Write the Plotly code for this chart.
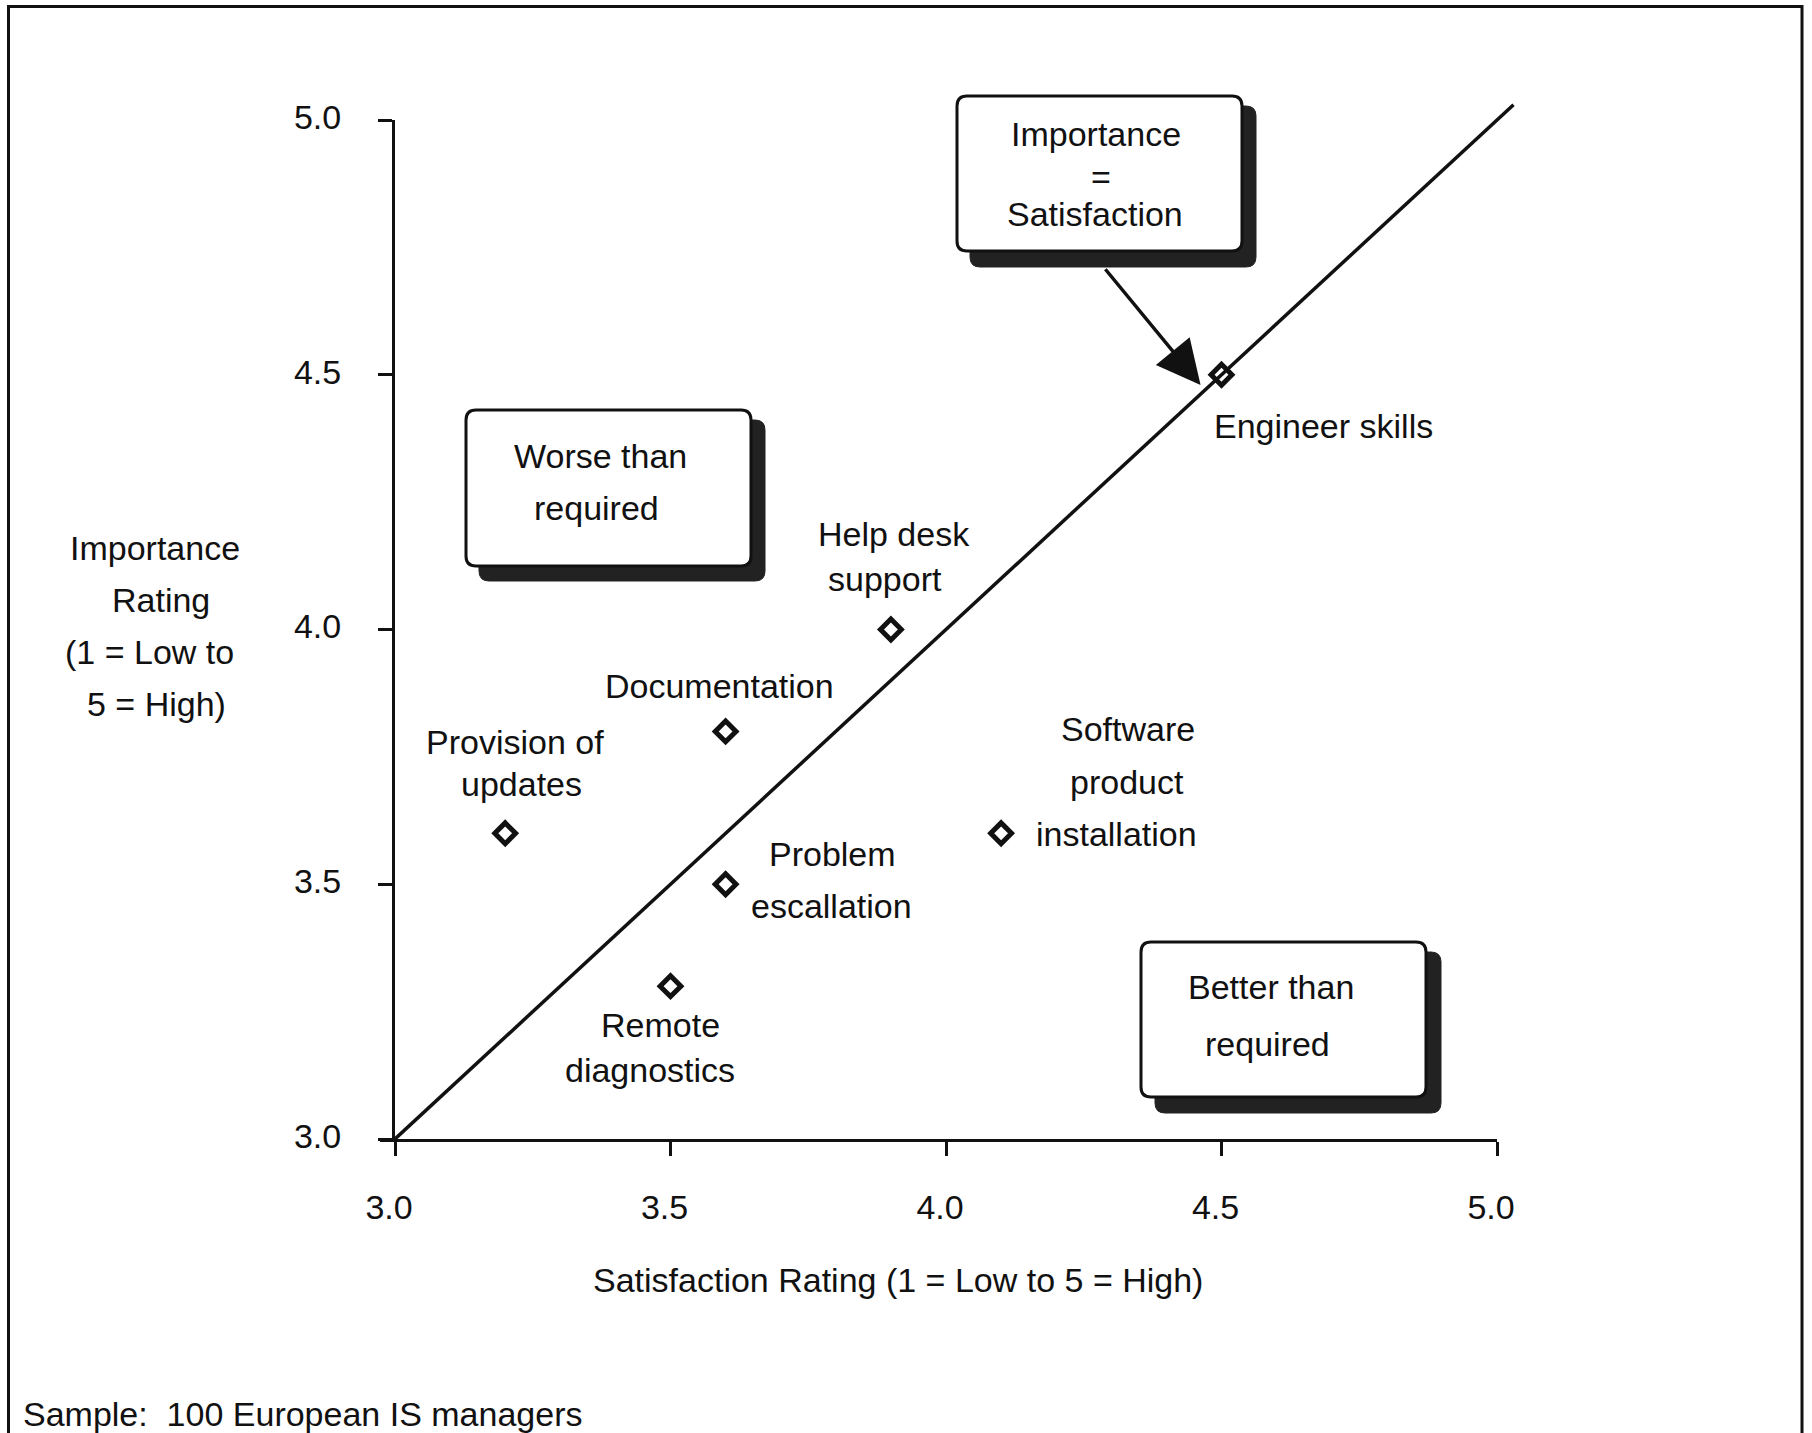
import plotly.graph_objects as go

# ---- Survey data: service attributes rated by IS managers ----
attributes = [
    "Engineer skills",
    "Help desk support",
    "Documentation",
    "Provision of updates",
    "Problem escallation",
    "Remote diagnostics",
    "Software product installation",
]
satisfaction = [4.5, 3.9, 3.6, 3.2, 3.6, 3.5, 4.1]
importance = [4.5, 4.0, 3.8, 3.6, 3.5, 3.3, 3.6]

# label text, one entry per line, for each attribute
label_lines = [
    ["Engineer skills"],
    ["Help desk", "support"],
    ["Documentation"],
    ["Provision of", "updates"],
    ["Problem", "escallation"],
    ["Remote", "diagnostics"],
    ["Software", "product", "installation"],
]

tick_values = [3.0, 3.5, 4.0, 4.5, 5.0]
tick_labels = ["3.0", "3.5", "4.0", "4.5", "5.0"]

# importance = satisfaction reference line
parity_x = [3.0, 5.03]
parity_y = [3.0, 5.03]

# arrow from the callout box to the parity line (data units)
arrow_tip = (4.462, 4.480)
arrow_tail = (4.287, 4.710)

# ---- layout geometry (pixels) ----
W, H = 1812, 1433
M_L, M_R, M_T, M_B = 395, 280, 90, 294
PW = W - M_L - M_R
PH = H - M_T - M_B
X_LO_PX, X_HI_PX = 395, 1497      # pixel columns of x = 3.0 and x = 5.0
Y_HI_PX, Y_LO_PX = 120, 1139      # pixel rows of y = 5.0 and y = 3.0

FONT = "Liberation Sans, Arial, Helvetica, sans-serif"
FS = 34
INK = "#111111"


def px(xp):
    return (xp - M_L) / PW


def py(yp):
    return (H - M_B - yp) / PH


x_per_unit = (X_HI_PX - X_LO_PX) / 2.0
y_per_unit = (Y_LO_PX - Y_HI_PX) / 2.0

fig = go.Figure()

# parity line on an auxiliary axis pair that runs slightly past 5.0
fig.add_trace(go.Scatter(
    x=parity_x, y=parity_y, mode="lines",
    line=dict(color=INK, width=3.5),
    xaxis="x2", yaxis="y2", hoverinfo="skip", showlegend=False,
))

# attribute markers
fig.add_trace(go.Scatter(
    x=satisfaction, y=importance, mode="markers",
    marker=dict(symbol="diamond-open", size=16, color=INK, line=dict(width=5, color=INK)),
    text=attributes, hoverinfo="text", showlegend=False, cliponaxis=False,
))

annotations = []

# per-line offsets (px right, px down) of each label relative to its marker
label_offsets = [
    [(102, 51)],
    [(3, -96), (-6, -51)],
    [(-6, -45)],
    [(10, -91), (16, -49)],
    [(107, -30), (106, 22)],
    [(-10, 39), (-21, 84)],
    [(127, -104), (126, -51), (115, 1)],
]
for sx, iy, lines, offs in zip(satisfaction, importance, label_lines, label_offsets):
    for line, (dx, dy) in zip(lines, offs):
        annotations.append(dict(
            x=sx, y=iy, xref="x", yref="y", text=line, showarrow=False,
            xanchor="center", yanchor="middle", xshift=dx, yshift=-dy,
            font=dict(family=FONT, size=FS, color=INK),
        ))


def free_text(text, xp, yp, xanchor="center"):
    annotations.append(dict(
        x=px(xp), y=py(yp), xref="paper", yref="paper", text=text,
        showarrow=False, xanchor=xanchor, yanchor="middle",
        font=dict(family=FONT, size=FS, color=INK),
    ))


# axis titles
for t, xp, yp in [("Importance", 155, 548), ("Rating", 161, 600),
                  ("(1 = Low to", 150, 652), ("5 = High)", 156, 704)]:
    free_text(t, xp, yp)
free_text("Satisfaction Rating (1 = Low to 5 = High)", 898, 1280)
free_text("Sample:\u00a0 100 European IS managers", 21, 1414, xanchor="left")

# callout box texts
for t, xp, yp in [("Importance", 1096, 134), ("=", 1101, 177), ("Satisfaction", 1095, 214),
                  ("Worse than", 600, 456), ("required", 596, 508),
                  ("Better than", 1271, 987), ("required", 1267, 1044)]:
    free_text(t, xp, yp)

# arrow pointing at the parity line
annotations.append(dict(
    x=arrow_tip[0], y=arrow_tip[1], xref="x", yref="y",
    ax=arrow_tail[0], ay=arrow_tail[1], axref="x", ayref="y",
    text="", showarrow=True, arrowhead=2, arrowsize=2.5, arrowwidth=3.5,
    arrowcolor=INK, standoff=0, startstandoff=0,
))


def rrect(x0, y0, x1, y1, r):
    X0, X1 = px(x0), px(x1)
    Yt, Yb = py(y0), py(y1)
    rx, ry = r / PW, r / PH
    return (f"M{X0 + rx},{Yt} L{X1 - rx},{Yt} Q{X1},{Yt} {X1},{Yt - ry} "
            f"L{X1},{Yb + ry} Q{X1},{Yb} {X1 - rx},{Yb} L{X0 + rx},{Yb} "
            f"Q{X0},{Yb} {X0},{Yb + ry} L{X0},{Yt - ry} Q{X0},{Yt} {X0 + rx},{Yt} Z")


shapes = []
# outer frame
shapes.append(dict(type="rect", xref="paper", yref="paper",
                   x0=px(8.5), x1=px(1802), y0=py(1460), y1=py(6.5),
                   line=dict(color=INK, width=3), fillcolor="rgba(0,0,0,0)", layer="below"))

# callout boxes with drop shadows
boxes = [
    ((957, 96, 1242, 251), (970, 106, 1256, 267)),
    ((466, 410, 751, 566), (479, 420, 765, 581)),
    ((1141, 942, 1426, 1097), (1155, 952, 1441, 1113)),
]
for box, shadow in boxes:
    shapes.append(dict(type="path", xref="paper", yref="paper", path=rrect(*shadow, 10),
                       fillcolor="#222222", line=dict(color="#222222", width=1)))
    shapes.append(dict(type="path", xref="paper", yref="paper", path=rrect(*box, 10),
                       fillcolor="white", line=dict(color=INK, width=3)))

# x axis line runs left under the y tick marks
shapes.append(dict(type="line", xref="paper", yref="paper",
                   x0=px(X_LO_PX - 15), x1=px(X_LO_PX), y0=py(Y_LO_PX + 1.5), y1=py(Y_LO_PX + 1.5),
                   line=dict(color=INK, width=3)))

axis_common = dict(
    tickmode="array", tickvals=tick_values, ticktext=tick_labels,
    showgrid=False, zeroline=False, showline=True, linecolor=INK, linewidth=3,
    ticks="outside", ticklen=14, tickwidth=3, tickcolor=INK,
    tickfont=dict(family=FONT, size=FS, color=INK),
)

fig.update_layout(
    width=W, height=H,
    margin=dict(l=M_L, r=M_R, t=M_T, b=M_B, pad=0),
    paper_bgcolor="white", plot_bgcolor="rgba(0,0,0,0)",
    showlegend=False,
    xaxis=dict(domain=[px(X_LO_PX), px(X_HI_PX)], range=[3, 5],
               ticklabelstandoff=22, ticklabelshift=-6, **axis_common),
    yaxis=dict(domain=[py(Y_LO_PX), py(Y_HI_PX)], range=[3, 5],
               ticklabelstandoff=30, ticklabelshift=-3, **axis_common),
    xaxis2=dict(domain=[0, 1], range=[3, 3 + PW / x_per_unit], visible=False,
                anchor="y2", fixedrange=True),
    yaxis2=dict(domain=[0, 1], range=[3, 3 + PH / y_per_unit], visible=False,
                anchor="x2", fixedrange=True),
    annotations=annotations,
    shapes=shapes,
)

fig.write_html("out.html")
